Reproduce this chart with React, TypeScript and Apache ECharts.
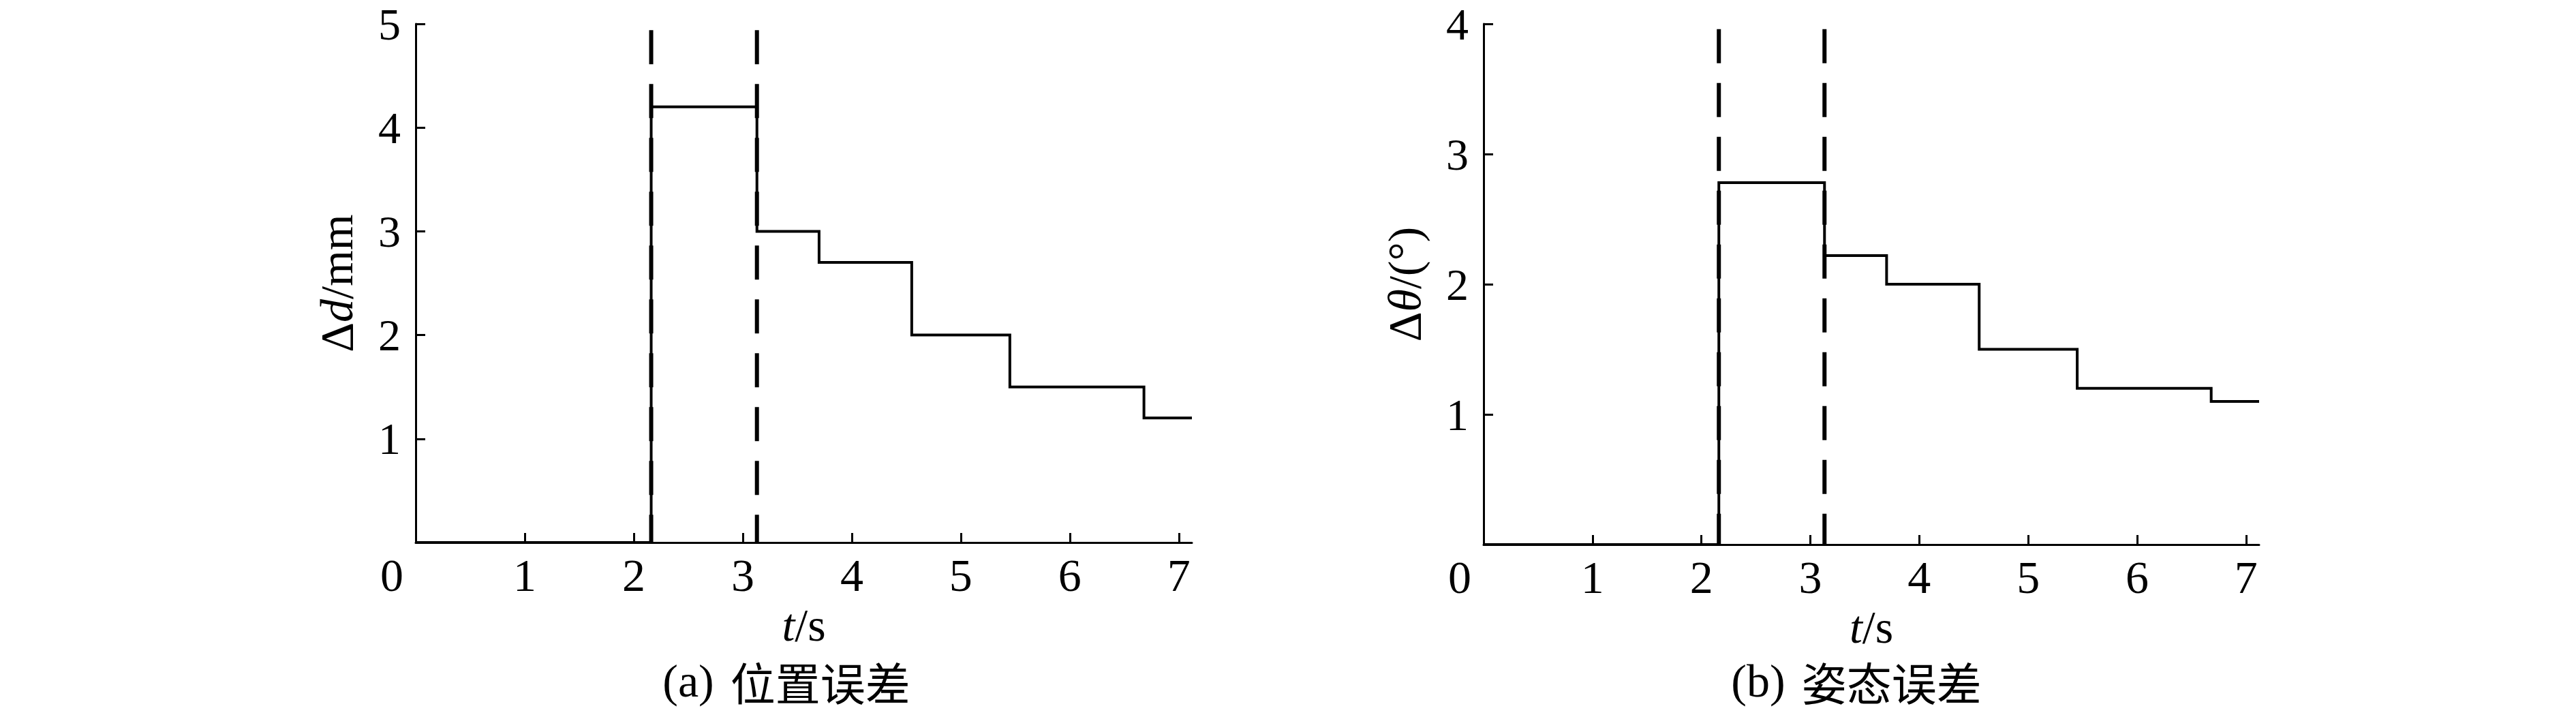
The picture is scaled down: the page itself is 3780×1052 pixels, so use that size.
import React, { useEffect, useRef } from "react";
import * as echarts from "echarts";

// ---- data ----
const tickValues = [0, 1, 2, 3, 4, 5, 6, 7];
const tEnd = 7.12;
const stepTimes = [2.16, 3.13, 3.7, 4.55, 5.45, 6.68];
const posLevels = [0, 4.2, 3.0, 2.7, 2.0, 1.5, 1.2];
const attLevels = [0, 2.78, 2.22, 2.0, 1.5, 1.2, 1.1];
const phaseBounds = [2.16, 3.13];
const phaseNames = ["A", "B", "C"];
const phaseLabelX = [1.16, 2.63, 5.12];
const posLabelY = 1.46;
const attLabelY = 1.16;
const posYMax = 5;
const attYMax = 4;
const posDashTop = 4.94;
const attDashTop = 3.96;
const posYName = "{g|Δ}{i|d}{g|/mm}";
const attYName = "{g|Δ}{i|θ}{g|/(°)}";
const xName = "{i|t}{g|/s}";
const captions = ["(a)", "(b)"];
const captionCn = ["位置误差", "姿态误差"];

const SERIF = "'Liberation Serif', 'Times New Roman', serif";
const CJK = "'Noto Sans CJK SC', sans-serif";
const FS = 68;

function stepPoints(levels: number[]) {
  const pts: number[][] = [[0, levels[0]]];
  stepTimes.forEach((t, i) => {
    pts.push([t, levels[i]]);
    pts.push([t, levels[i + 1]]);
  });
  pts.push([tEnd, levels[levels.length - 1]]);
  return pts;
}

const richName = {
  g: { fontFamily: SERIF, fontSize: FS, color: "#000" },
  i: { fontFamily: SERIF, fontSize: FS, fontStyle: "italic", color: "#000" },
};

function xAxisOpt(gridIndex: number) {
  return {
    type: "value",
    gridIndex,
    min: 0,
    max: tEnd,
    interval: 1,
    name: xName,
    nameLocation: "middle",
    nameGap: 86,
    nameTextStyle: { fontFamily: SERIF, fontSize: FS, color: "#000", rich: richName },
    axisLine: { show: true, onZero: false, lineStyle: { color: "#000", width: 3 } },
    axisTick: {
      show: true,
      inside: true,
      length: 14,
      customValues: tickValues,
      lineStyle: { color: "#000", width: 3 },
    },
    axisLabel: {
      show: true,
      customValues: tickValues,
      margin: 14,
      fontFamily: SERIF,
      fontSize: FS,
      color: "#000",
      formatter: (v: number) => (v === 0 ? "{o|0}" : String(v)),
      rich: {
        o: { fontFamily: SERIF, fontSize: FS, color: "#000", padding: [0, 70, 0, 0] },
      },
    },
    splitLine: { show: false },
  };
}

function yAxisOpt(gridIndex: number, max: number, name: string) {
  return {
    type: "value",
    gridIndex,
    min: 0,
    max,
    interval: 1,
    name,
    nameLocation: "middle",
    nameGap: 82,
    nameRotate: 90,
    nameTextStyle: { fontFamily: SERIF, fontSize: FS, color: "#000", rich: richName },
    axisLine: { show: true, lineStyle: { color: "#000", width: 3 } },
    axisTick: { show: true, inside: true, length: 14, lineStyle: { color: "#000", width: 3 } },
    axisLabel: {
      show: true,
      margin: 22,
      fontFamily: SERIF,
      fontSize: 66,
      lineHeight: 52,
      color: "#000",
      formatter: (v: number) => (v === 0 ? "" : String(v)),
    },
    splitLine: { show: false },
  };
}

function chartSeries(idx: number, levels: number[], dashTop: number, labelY: number) {
  const s: any[] = [];
  phaseBounds.forEach((b) => {
    s.push({
      type: "line",
      xAxisIndex: idx,
      yAxisIndex: idx,
      data: [
        [b, dashTop],
        [b, 0],
      ],
      symbol: "none",
      lineStyle: { color: "#000", width: 6, type: [50, 29] },
      z: 2,
    });
  });
  s.push({
    type: "line",
    xAxisIndex: idx,
    yAxisIndex: idx,
    data: stepPoints(levels),
    symbol: "none",
    lineStyle: { color: "#000", width: 4, join: "miter", cap: "butt" },
    z: 3,
  });
  s.push({
    type: "scatter",
    xAxisIndex: idx,
    yAxisIndex: idx,
    symbolSize: 1,
    itemStyle: { opacity: 0 },
    data: phaseNames.map((n, i) => ({ name: n, value: [phaseLabelX[i], labelY] })),
    label: {
      show: true,
      position: "inside",
      formatter: "{b}",
      fontFamily: SERIF,
      fontSize: FS,
      color: "#000",
    },
    z: 4,
  });
  return s;
}

function captionText(i: number, x: number) {
  return {
    type: "text",
    x,
    y: 999,
    style: {
      text: `{a|${captions[i]}}{c|${captionCn[i]}}`,
      textAlign: "center",
      textVerticalAlign: "middle",
      rich: {
        a: { fontFamily: SERIF, fontSize: FS, lineHeight: 70, fill: "#000", padding: [0, 24, 0, 0] },
        c: { fontFamily: CJK, fontSize: 66, lineHeight: 70, fill: "#000" },
      },
      fill: "#000",
      fontFamily: SERIF,
      fontSize: FS,
      lineHeight: 70,
    },
  };
}

export default function App() {
  const ref = useRef<HTMLDivElement>(null);
  useEffect(() => {
    document.body.style.margin = "0";
    const chart = echarts.init(ref.current!, null, { renderer: "svg" });
    chart.setOption({
      animation: false,
      backgroundColor: "#fff",
      grid: [
        { left: 610, top: 35, width: 1139, height: 761, containLabel: false },
        { left: 2177, top: 35, width: 1138, height: 764, containLabel: false },
      ],
      xAxis: [xAxisOpt(0), xAxisOpt(1)],
      yAxis: [yAxisOpt(0, posYMax, posYName), yAxisOpt(1, attYMax, attYName)],
      series: [
        ...chartSeries(0, posLevels, posDashTop, posLabelY),
        ...chartSeries(1, attLevels, attDashTop, attLabelY),
      ],
      graphic: [captionText(0, 1154), captionText(1, 2724)],
    });
    return () => chart.dispose();
  }, []);
  return (
    <div
      ref={ref}
      style={{ position: "absolute", left: 0, top: 0, width: 3780, height: 1052, background: "#fff" }}
    />
  );
}
